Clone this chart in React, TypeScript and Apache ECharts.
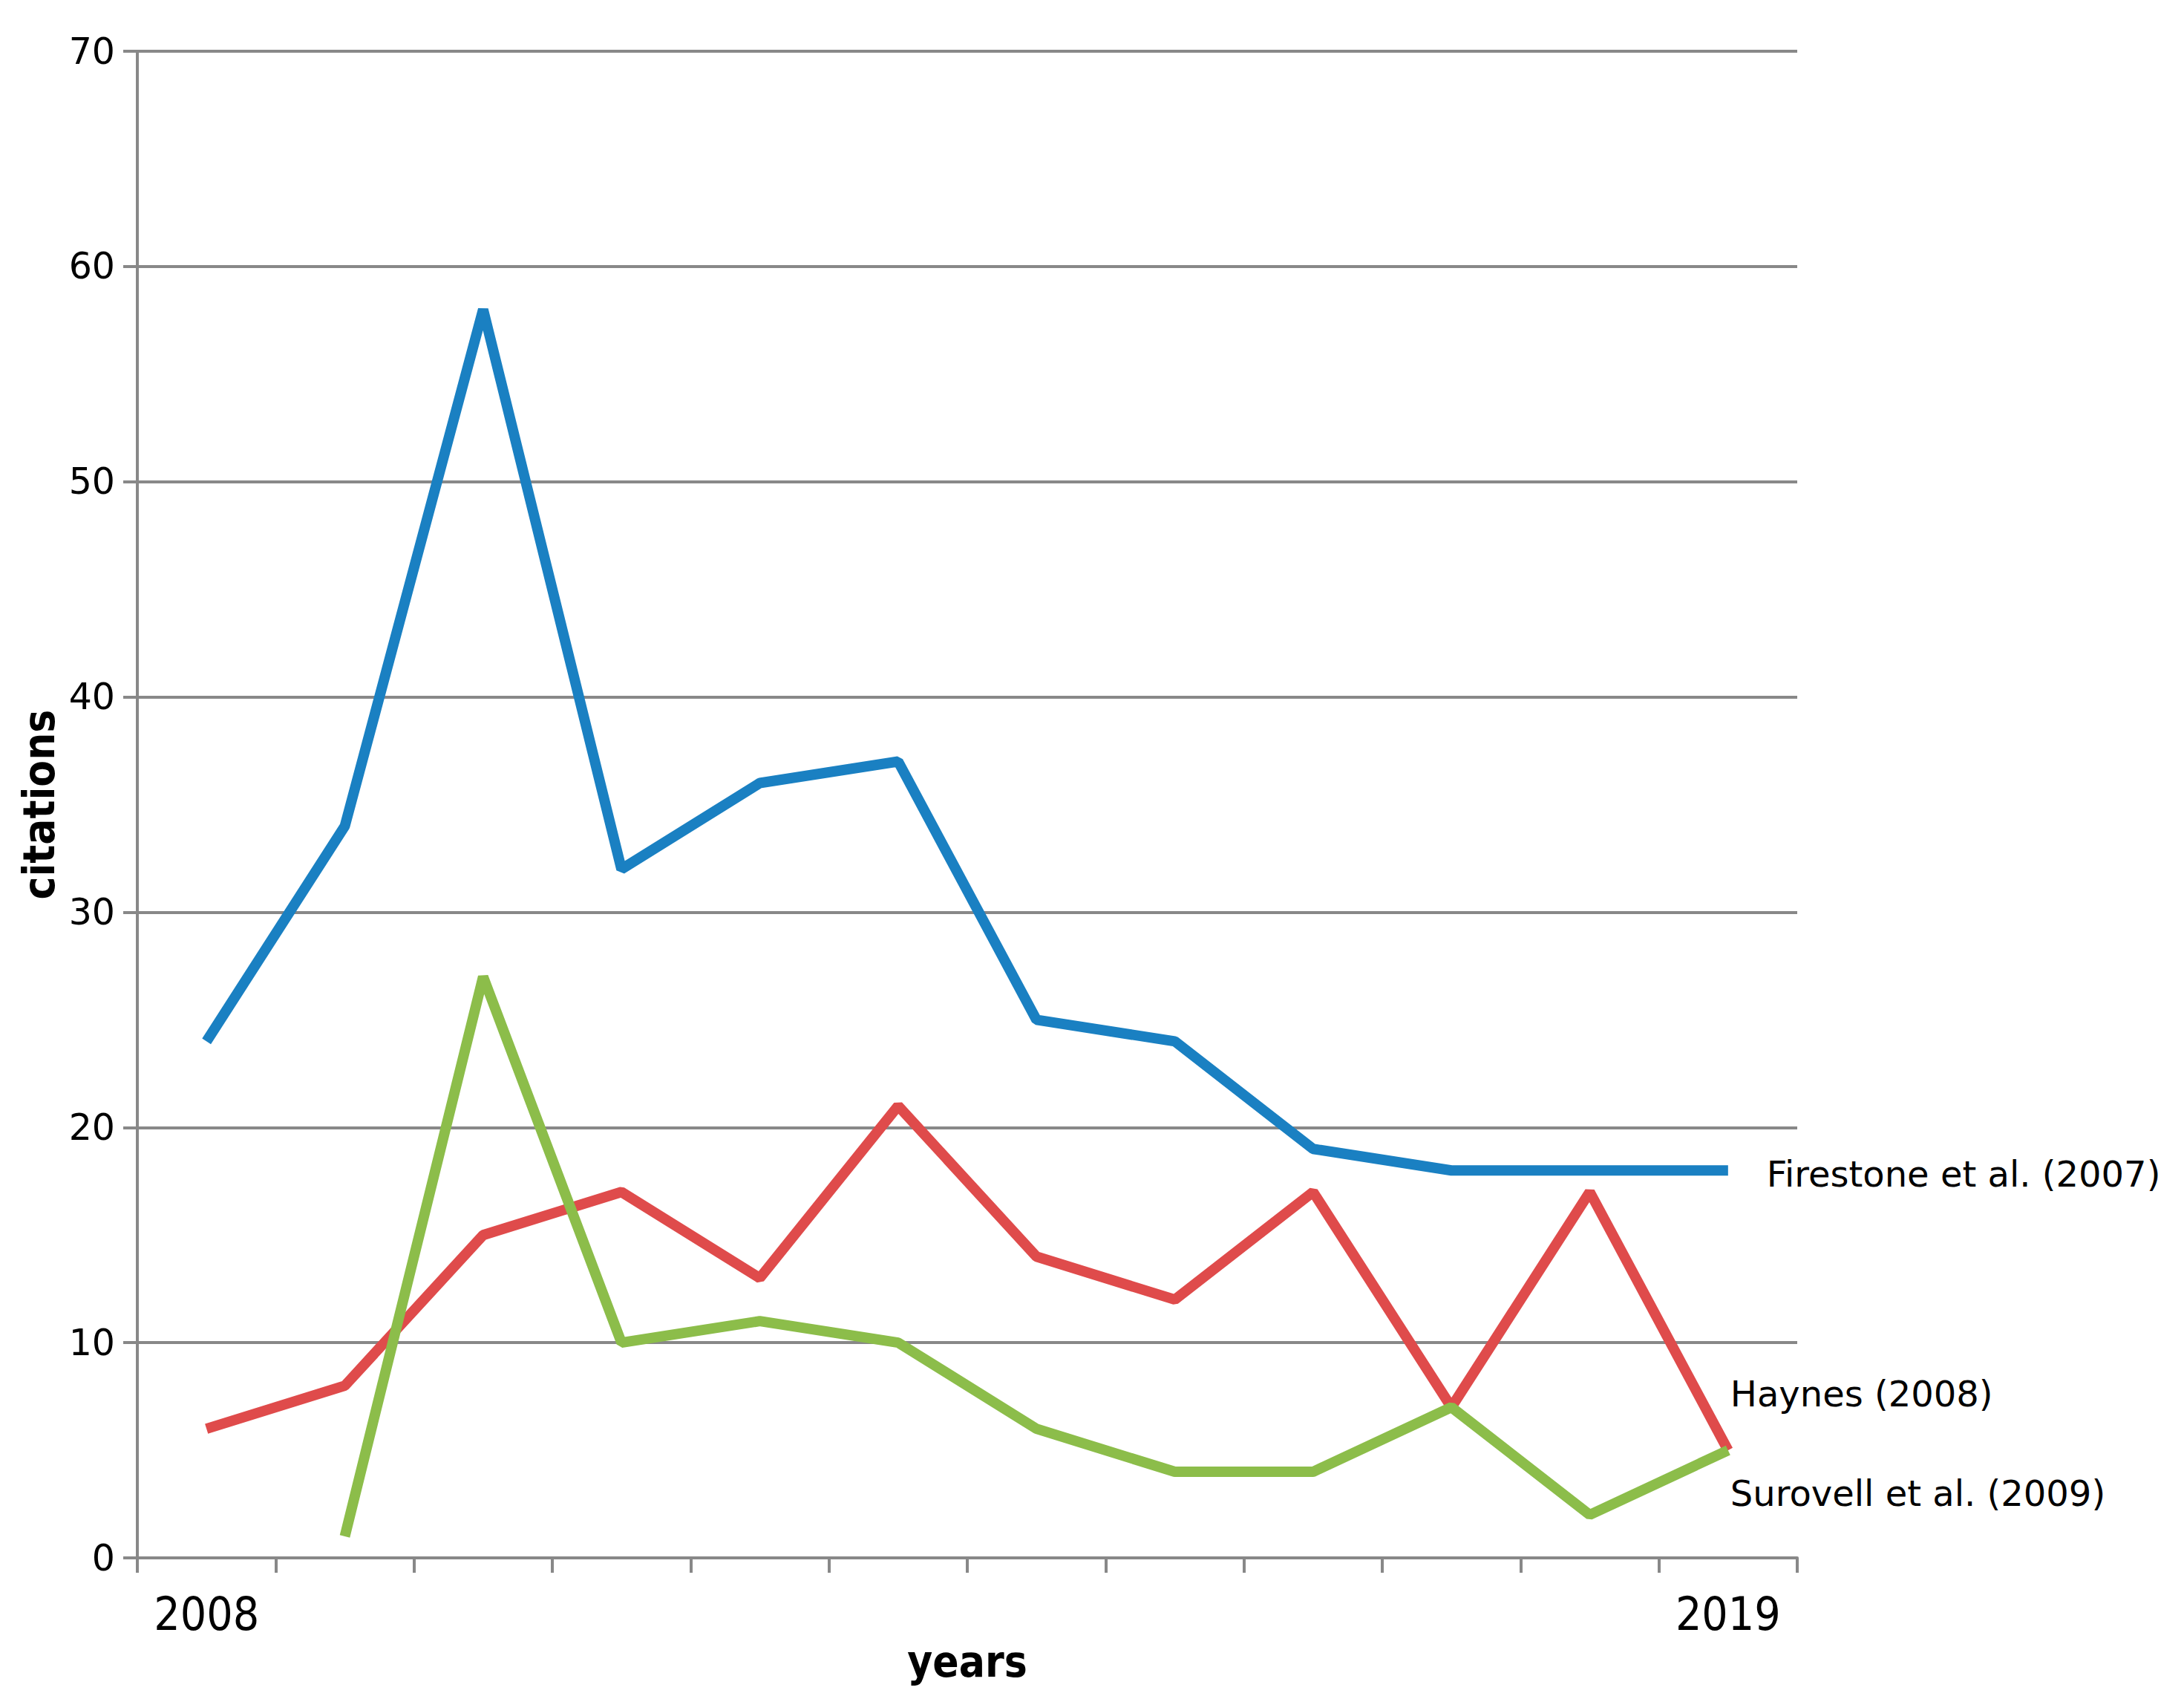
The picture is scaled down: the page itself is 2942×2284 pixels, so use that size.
import React, { useEffect, useRef } from "react";
import * as echarts from "echarts";

const years = ["2008", "2009", "2010", "2011", "2012", "2013", "2014", "2015", "2016", "2017", "2018", "2019"];
const firestone = [24, 34, 58, 32, 36, 37, 25, 24, 19, 18, 18, 18];
const haynes = [6, 8, 15, 17, 13, 21, 14, 12, 17, 7, 17, 5];
const surovell = [null, 1, 27, 10, 11, 10, 6, 4, 4, 7, 2, 5];
const seriesNames = ["Firestone et al. (2007)", "Haynes (2008)", "Surovell et al. (2009)"];
const yTicks = { min: 0, max: 70, interval: 10 };

const GRAY = "#888888";
const LABEL_FONT = "'DejaVu Sans', Verdana, sans-serif";
const NARROW_FONT = "'Liberation Sans Narrow', 'Arial Narrow', 'DejaVu Sans Condensed', sans-serif";

export default function App() {
  const ref = useRef<HTMLDivElement>(null);
  useEffect(() => {
    if (!ref.current) return;
    const chart = echarts.init(ref.current, undefined, { renderer: "svg" });
    const mkSeries = (name: string, data: (number | null)[], color: string, offset: number[]) => ({
      type: "line",
      name,
      data,
      symbol: "none",
      connectNulls: false,
      lineStyle: { color, width: 14 },
      itemStyle: { color },
      endLabel: {
        show: true,
        formatter: name,
        distance: 0,
        offset,
        color: "#000",
        fontFamily: LABEL_FONT,
        fontSize: 48,
        align: "left",
        verticalAlign: "middle",
      },
      z: 3,
    });
    chart.setOption({
      animation: false,
      backgroundColor: "#ffffff",
      grid: { left: 185, right: 521, top: 69, bottom: 186, outerBoundsMode: "none", containLabel: false },
      xAxis: {
        type: "category",
        data: years,
        boundaryGap: true,
        name: "years",
        nameLocation: "middle",
        nameGap: 84,
        nameTextStyle: { fontFamily: NARROW_FONT, fontWeight: "bold", fontSize: 58, color: "#000" },
        axisLine: { lineStyle: { color: GRAY, width: 4 } },
        axisTick: { show: true, interval: 0, length: 20, alignWithLabel: false, lineStyle: { color: GRAY, width: 4 } },
        axisLabel: {
          interval: (i: number) => i === 0 || i === years.length - 1,
          margin: 44,
          fontFamily: NARROW_FONT,
          fontSize: 62,
          color: "#000",
        },
        splitLine: { show: false },
      },
      yAxis: {
        type: "value",
        min: yTicks.min,
        max: yTicks.max,
        interval: yTicks.interval,
        name: "citations",
        nameLocation: "middle",
        nameRotate: 90,
        nameGap: 96,
        nameTextStyle: { fontFamily: NARROW_FONT, fontWeight: "bold", fontSize: 58, color: "#000" },
        axisLine: { show: true, lineStyle: { color: GRAY, width: 4 } },
        axisTick: { show: true, length: 19, lineStyle: { color: GRAY, width: 4 } },
        axisLabel: { margin: 30, fontFamily: LABEL_FONT, fontSize: 49, color: "#000" },
        splitLine: { show: true, lineStyle: { color: GRAY, width: 4 } },
      },
      series: [
        mkSeries(seriesNames[0], firestone, "#1a80c2", [52, 5]),
        mkSeries(seriesNames[1], haynes, "#df4b4b", [3, -76]),
        mkSeries(seriesNames[2], surovell, "#8cbd4a", [3, 58]),
      ],
    });
    return () => chart.dispose();
  }, []);
  return (
    <div
      ref={ref}
      style={{ position: "absolute", left: 0, top: 0, width: 2942, height: 2284, background: "#fff" }}
    />
  );
}
